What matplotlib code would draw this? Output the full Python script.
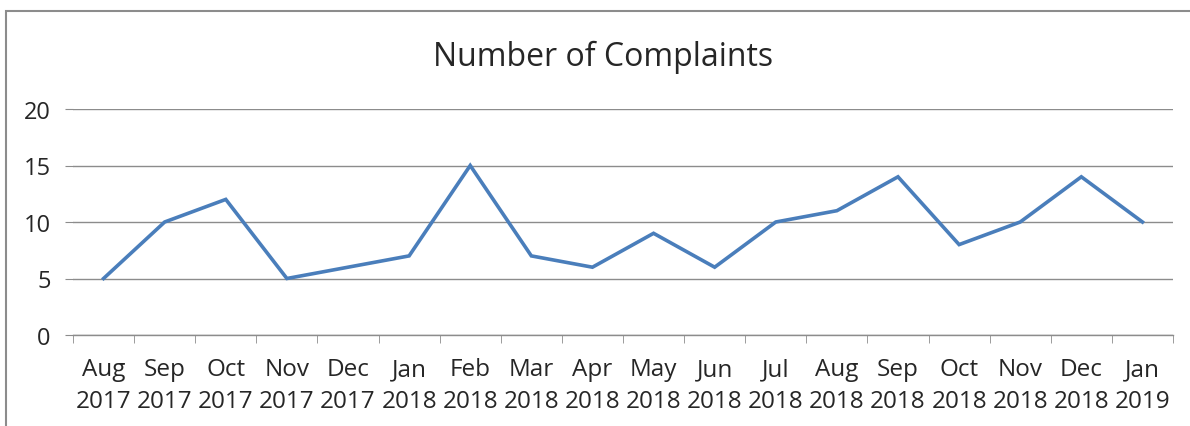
import matplotlib
matplotlib.use("Agg")
import matplotlib.pyplot as plt
from matplotlib.patches import Rectangle
import numpy as np

months = ["Aug 2017", "Sep 2017", "Oct 2017", "Nov 2017", "Dec 2017", "Jan 2018",
          "Feb 2018", "Mar 2018", "Apr 2018", "May 2018", "Jun 2018", "Jul 2018",
          "Aug 2018", "Sep 2018", "Oct 2018", "Nov 2018", "Dec 2018", "Jan 2019"]
complaints = [5, 10, 12, 5, 6, 7, 15, 7, 6, 9, 6, 10, 11, 14, 8, 10, 14, 10]
yticks = [0, 5, 10, 15, 20]
title = "Number of Complaints"

plt.rcParams['font.family'] = ['Open Sans', 'DejaVu Sans']

fig = plt.figure(figsize=(11.9, 4.27), dpi=100)
W, H = 1190, 427
# outer chart frame
fig.patches.append(Rectangle((6 / W, -0.1), 1.2, (427 - 12) / H + 0.1, transform=fig.transFigure,
                             fill=False, edgecolor='#8c8c8c', linewidth=1.5))

ax = fig.add_axes([73 / W, (H - 336) / H, (1173 - 73) / W, (336 - 110) / H])
x = np.arange(len(months))
ax.plot(x, complaints, color='#4a7ebb', linewidth=2.6, solid_joinstyle='miter')
ax.set_xlim(-0.5, len(months) - 0.5)
ax.set_ylim(0, 20)
ax.set_yticks(yticks)
ax.yaxis.grid(True, color='#8c8c8c', linewidth=1)
ax.set_axisbelow(True)
for s in ['top', 'right', 'left']:
    ax.spines[s].set_visible(False)
ax.spines['bottom'].set_color('#8c8c8c')
ax.spines['bottom'].set_linewidth(1)

ax.set_xticks(x)
ax.set_xticklabels([m.replace(" ", "\n") for m in months], fontsize=17.5, color='#262626',
                   linespacing=1.45)
ax.tick_params(axis='x', length=0, pad=16)
ax.set_xticks(np.arange(-0.5, len(months), 1), minor=True)
ax.tick_params(axis='x', which='minor', length=6, color='#8c8c8c', direction='out')
ax.tick_params(axis='y', length=6, color='#8c8c8c', labelsize=17, labelcolor='#262626', pad=10)

fig.text(603 / W, (H - 57) / H, title, ha='center', va='center', fontsize=23, color='#262626')

fig.savefig("out.png", dpi=100)
